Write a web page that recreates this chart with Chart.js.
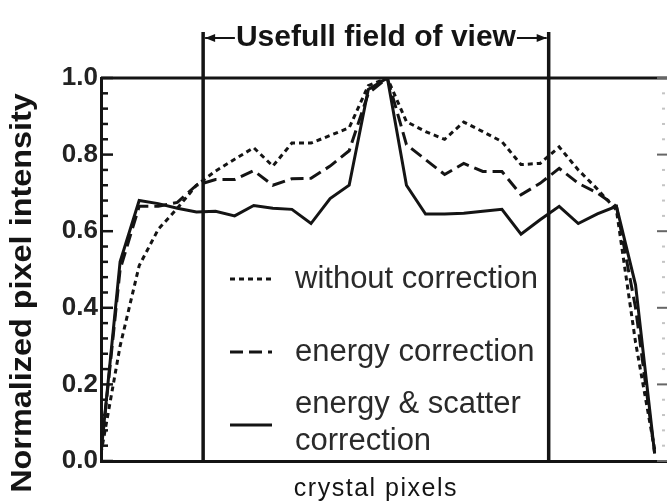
<!DOCTYPE html>
<html>
<head>
<meta charset="utf-8">
<script src="https://cdn.jsdelivr.net/npm/chart.js@4/dist/chart.umd.min.js"></script>
<style>
  html, body { margin: 0; padding: 0; background: #fff; overflow: hidden; }
  #wrap { width: 667px; height: 504px; overflow: hidden; }
  canvas { display: block; }
</style>
</head>
<body>
<div id="wrap"><canvas id="profile" width="690" height="504"></canvas></div>
<script>
// crystal pixel index along the profile
const crystalPixels = [0, 1, 2, 3, 4, 5, 6, 7, 8, 9, 10, 11, 12, 13, 14, 15, 16, 17, 18, 19, 20, 21, 22, 23, 24, 25, 26, 27, 28, 29];

const withoutCorrection = [0.02, 0.30, 0.51, 0.605, 0.66, 0.72, 0.757, 0.788, 0.818, 0.77, 0.83, 0.83, 0.85, 0.87, 0.98, 1.0,
  0.886, 0.86, 0.84, 0.885, 0.86, 0.834, 0.774, 0.777, 0.82, 0.76, 0.71, 0.655, 0.31, 0.03];
const energyCorrection = [0.02, 0.50, 0.665, 0.665, 0.675, 0.72, 0.735, 0.735, 0.758, 0.72, 0.737, 0.738, 0.77, 0.81, 0.96, 1.0,
  0.826, 0.787, 0.748, 0.777, 0.756, 0.756, 0.695, 0.725, 0.764, 0.725, 0.70, 0.665, 0.40, 0.02];
const energyScatterCorrection = [0.02, 0.52, 0.68, 0.672, 0.66, 0.65, 0.652, 0.64, 0.667, 0.66, 0.657, 0.62, 0.685, 0.72, 0.97, 1.0,
  0.72, 0.645, 0.645, 0.647, 0.652, 0.657, 0.592, 0.63, 0.665, 0.62, 0.645, 0.665, 0.46, 0.02];

const seriesLabels = ['without correction', 'energy correction', ['energy & scatter', 'correction']];
const fieldOfView = [5.35, 23.45];
const yTicks = [0, 0.2, 0.4, 0.6, 0.8, 1.0];

const FONT = "'Liberation Sans', Arial, sans-serif";
const INK = '#141414';

function points(values) {
  return crystalPixels.map((p, i) => ({ x: p, y: values[i] }));
}

// axis frame, inward ticks, field-of-view markers, legend and titles
const decor = {
  id: 'decor',
  afterDatasetsDraw(chart) {
    const ctx = chart.ctx;
    const area = chart.chartArea;
    const x = chart.scales.x;
    const y = chart.scales.y;
    ctx.save();
    ctx.strokeStyle = INK;
    ctx.fillStyle = INK;
    ctx.lineCap = 'butt';

    // top frame line
    ctx.lineWidth = 3;
    ctx.beginPath();
    ctx.moveTo(area.left, area.top);
    ctx.lineTo(chart.width, area.top);
    ctx.stroke();

    // minor every 0.04, major every 0.2, pointing into the plot
    for (let i = 0; i <= 25; i++) {
      const py = y.getPixelForValue(i * 0.04);
      const major = i % 5 === 0;
      ctx.lineWidth = 2.5;
      ctx.strokeStyle = INK;
      ctx.beginPath();
      ctx.moveTo(area.left, py);
      ctx.lineTo(area.left + (major ? 12 : 7), py);
      ctx.stroke();
      ctx.lineWidth = 2;
      ctx.strokeStyle = major ? '#666' : '#c4c4c4';
      ctx.beginPath();
      ctx.moveTo(area.right - (major ? 0 : 3), py);
      ctx.lineTo(area.right - (major ? 11 : 6), py);
      ctx.stroke();
    }

    // useful field of view bounds
    const fx = fieldOfView.map(v => x.getPixelForValue(v));
    const barTop = 32, arrowY = 38;
    ctx.strokeStyle = INK;
    ctx.lineWidth = 3.5;
    fx.forEach(px => {
      ctx.beginPath();
      ctx.moveTo(px, barTop);
      ctx.lineTo(px, area.bottom);
      ctx.stroke();
    });

    const mid = (fx[0] + fx[1]) / 2;
    ctx.font = 'bold 30px ' + FONT;
    ctx.textAlign = 'center';
    ctx.textBaseline = 'middle';
    ctx.fillText('Usefull field of view', mid, arrowY);
    const half = ctx.measureText('Usefull field of view').width / 2;
    ctx.lineWidth = 2;
    ctx.beginPath();
    ctx.moveTo(fx[0] + 2, arrowY);
    ctx.lineTo(mid - half - 1, arrowY);
    ctx.moveTo(mid + half + 1, arrowY);
    ctx.lineTo(fx[1] - 2, arrowY);
    ctx.stroke();
    [[fx[0] + 2, 1], [fx[1] - 2, -1]].forEach(([tip, dir]) => {
      ctx.beginPath();
      ctx.moveTo(tip, arrowY);
      ctx.lineTo(tip + dir * 10, arrowY - 4);
      ctx.lineTo(tip + dir * 10, arrowY + 4);
      ctx.closePath();
      ctx.fill();
    });

    // x axis title
    ctx.font = '25px ' + FONT;
    ctx.letterSpacing = '1.5px';
    ctx.textBaseline = 'alphabetic';
    ctx.fillText('crystal pixels', mid, 496);
    ctx.letterSpacing = '0px';

    // y axis title
    ctx.save();
    ctx.translate(23, 293);
    ctx.rotate(-Math.PI / 2);
    ctx.scale(1.08, 1);
    ctx.font = 'bold 30px ' + FONT;
    ctx.textBaseline = 'middle';
    ctx.fillText('Normalized pixel intensity', 0, 0);
    ctx.restore();

    // legend
    const rows = [279, 352, 423];
    ctx.font = '31px ' + FONT;
    ctx.textAlign = 'left';
    ctx.textBaseline = 'middle';
    chart.data.datasets.forEach((ds, i) => {
      const ry = rows[i];
      ctx.strokeStyle = ds.borderColor;
      ctx.lineWidth = ds.borderWidth;
      ctx.setLineDash(ds.borderDash || []);
      ctx.beginPath();
      ctx.moveTo(230, i === 2 ? ry + 2 : ry);
      ctx.lineTo(272, i === 2 ? ry + 2 : ry);
      ctx.stroke();
      ctx.setLineDash([]);
      ctx.fillStyle = '#2a2a2a';
      const lines = Array.isArray(seriesLabels[i]) ? seriesLabels[i] : [seriesLabels[i]];
      const lh = 37;
      lines.forEach((t, k) => {
        ctx.fillText(t, 295, ry + (k - (lines.length - 1) / 2) * lh);
      });
    });
    ctx.restore();
  }
};

new Chart(document.getElementById('profile'), {
  type: 'line',
  data: {
    datasets: [
      { label: 'without correction', data: points(withoutCorrection), borderColor: INK, borderWidth: 3, borderDash: [5, 4] },
      { label: 'energy correction', data: points(energyCorrection), borderColor: INK, borderWidth: 3, borderDash: [13, 6] },
      { label: 'energy & scatter correction', data: points(energyScatterCorrection), borderColor: INK, borderWidth: 3 }
    ]
  },
  options: {
    responsive: false,
    animation: false,
    events: [],
    layout: { padding: { top: 78, right: 22, left: 0, bottom: 0 } },
    elements: { point: { radius: 0 }, line: { tension: 0, fill: false } },
    plugins: { legend: { display: false }, tooltip: { enabled: false } },
    scales: {
      x: {
        type: 'linear', min: 0, max: 29.7,
        grid: { display: false, drawTicks: false },
        border: { display: true, color: INK, width: 3 },
        ticks: { display: false },
        afterFit: s => { s.height = 43; }
      },
      y: {
        min: 0, max: 1,
        grid: { display: false, drawTicks: false },
        border: { display: true, color: INK, width: 3 },
        afterBuildTicks: s => { s.ticks = yTicks.map(v => ({ value: v })); },
        ticks: {
          color: '#222', padding: 3,
          font: { family: FONT, size: 26, weight: 'bold' },
          callback: v => v.toFixed(1)
        },
        afterFit: s => { s.width = 101; }
      }
    }
  },
  plugins: [decor]
});
</script>
</body>
</html>
